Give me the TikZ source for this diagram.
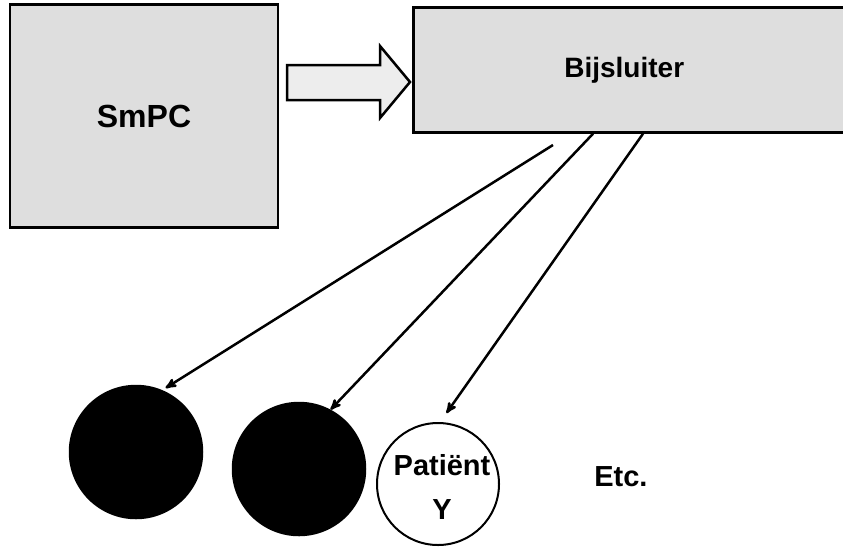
\documentclass[tikz,border=0pt]{standalone}
\usepackage{fontspec}
\setmainfont{Liberation Sans}
\usetikzlibrary{arrows,positioning}

\begin{document}
\begin{tikzpicture}[x=1pt,y=-1pt,>=stealth',line width=2.5pt]
  \tikzstyle{doc}=[draw=black,fill=black!13,inner sep=0pt,font=\bfseries\fontsize{32}{34}\selectfont]
  \tikzstyle{patient}=[circle,draw=black,inner sep=0pt,minimum size=132pt]
  \tikzstyle{label}=[font=\bfseries\fontsize{29}{44}\selectfont,align=center,inner sep=0pt]
  \useasboundingbox (0,0) rectangle (843,550);

  \node[doc,minimum width=268pt,minimum height=223pt] (smpc) at (144,116) {SmPC};
  \node[doc,anchor=west,minimum width=436pt,minimum height=125pt,
        font=\bfseries\fontsize{28}{30}\selectfont] (bijs) at (412,70) {\hspace*{-14pt}Bijsluiter};

  % block arrow between the two texts
  \draw[fill=black!7] (287,65) -- (380,65) -- (380,46) -- (410,82)
    -- (380,118) -- (380,100) -- (287,100) -- cycle;

  \node[patient,fill=black] (p1) at (136,452) {};
  \node[patient,fill=black] (p2) at (299,469) {};
  \node[patient,minimum size=122pt,line width=2pt] (py) at (438,484) {};
  \node[label] (pyt) at (442,487) {Patiënt\\Y};
  \node[label,anchor=base west] (etc) at (593,486) {Etc.};

  \coordinate (s1) at (553,145);
  \draw[->,shorten >=4pt] (s1) -- (p1.67);
  \draw[->] ([xshift=181pt]bijs.south west) -- (p2.62);
  \draw[->,shorten >=11pt] ([xshift=231pt]bijs.south west) -- (py.88);
\end{tikzpicture}
\end{document}
